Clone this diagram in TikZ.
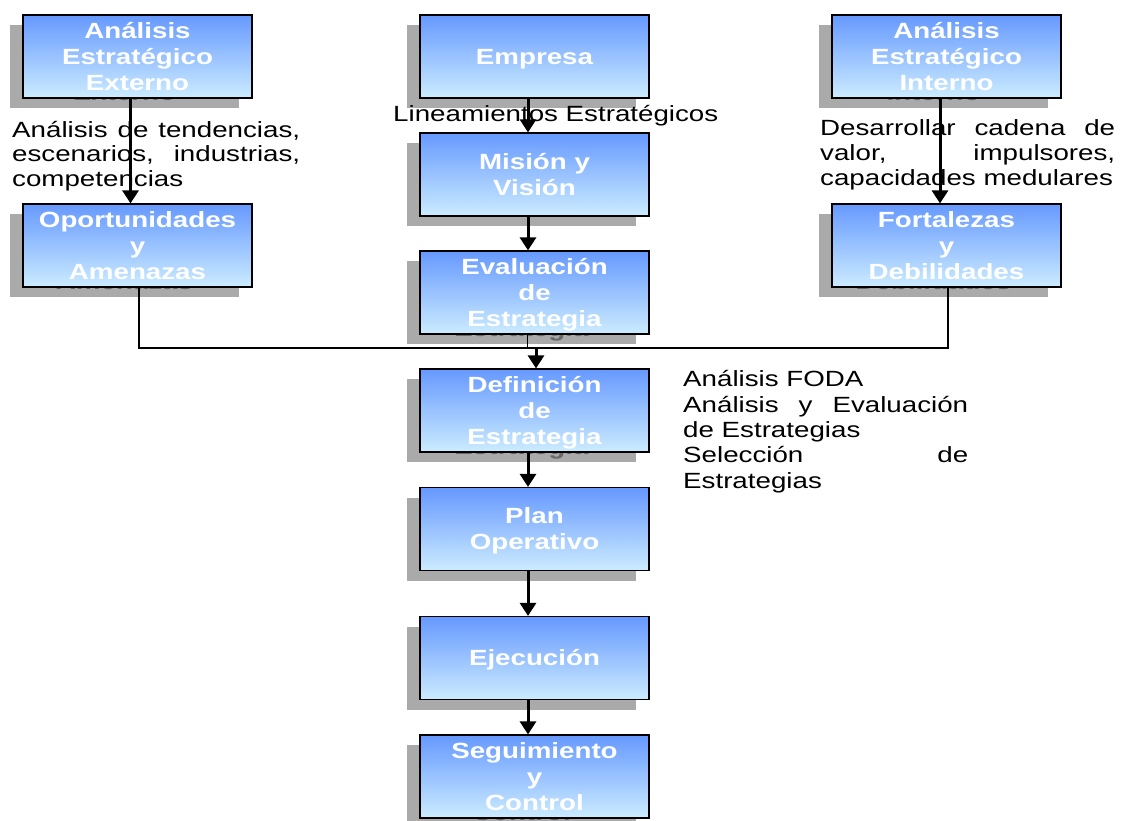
\documentclass[tikz,border=0pt]{standalone}
\usepackage{fontspec}
\setmainfont{Liberation Sans}[FakeStretch=1.26]
\usetikzlibrary{arrows.meta,calc}

\definecolor{boxtop}{RGB}{102,153,255}
\definecolor{boxbot}{RGB}{204,236,255}
\definecolor{shadowfill}{RGB}{170,170,170}
\definecolor{shadowtext}{RGB}{105,105,105}

% line strut for the text inside the process boxes (20.5pt above, 5.5pt below the baseline)
\newcommand\bxs{\rule[-5.5pt]{0pt}{26pt}}
% a process box with its offset drop shadow (the shadow repeats the text in grey)
\newcommand\flowbox[4]{%
  \node[shadowbox] (#1-sh) at ({#2-13},{#3+10}) {#4};
  \node[stepbox] (#1) at (#2,#3) {#4};}

\begin{document}
\begin{tikzpicture}[x=1pt,y=-1pt,
  boxbase/.style={minimum width=229pt,minimum height=83pt,inner sep=0pt,
    align=center,font=\fontsize{22}{26}\selectfont\bfseries},
  shadowbox/.style={boxbase,fill=shadowfill,text=shadowtext},
  stepbox/.style={boxbase,draw=black,line width=1.2pt,
    top color=boxtop,bottom color=boxbot,text=white},
  note/.style={inner sep=0pt,anchor=base west,font=\fontsize{22}{25}\selectfont},
  arrow/.style={line width=3pt,-{Triangle[width=16pt,length=13pt]}},
  joinline/.style={line width=2pt},
  feedline/.style={line width=1pt}]
\useasboundingbox (0,0) rectangle (1125,820);

% process boxes
\flowbox{ext}{137.5}{56.5}{\bxs Análisis\\\bxs Estratégico\\\bxs Externo}
\flowbox{emp}{534.5}{56.5}{\bxs Empresa}
\flowbox{int}{946.5}{56.5}{\bxs Análisis\\\bxs Estratégico\\\bxs Interno}
\flowbox{mis}{534.5}{174.5}{\bxs Misión y\\\bxs Visión}
\flowbox{opo}{137.5}{245.5}{\bxs Oportunidades\\\bxs y\\\bxs Amenazas}
\flowbox{fort}{946.5}{245.5}{\bxs Fortalezas\\\bxs y\\\bxs Debilidades}
\flowbox{eval}{534.5}{292.5}{\bxs Evaluación\\\bxs de\\\bxs Estrategia}
\flowbox{def}{534.5}{410.5}{\bxs Definición\\\bxs de\\\bxs Estrategia}
\flowbox{plan}{534.5}{529}{\bxs Plan\\\bxs Operativo}
\flowbox{eje}{534.5}{658}{\bxs Ejecución}
\flowbox{seg}{534.5}{776.5}{\bxs Seguimiento\\\bxs y\\\bxs Control}

% annotations
\node[note] (lin) at (393,121) {Lineamientos Estratégicos};
\node[note] (ext-note) at (12,137) {\parbox[t]{288pt}{\fontsize{22}{24.8}\selectfont\raggedright
  \makebox[\linewidth][s]{Análisis de tendencias,}\\
  \makebox[\linewidth][s]{escenarios, industrias,}\\
  competencias}};
\node[note] (int-note) at (820,135) {\parbox[t]{295pt}{\fontsize{22}{25}\selectfont\raggedright
  \makebox[\linewidth][s]{Desarrollar cadena de}\\
  \makebox[\linewidth][s]{valor, impulsores,}\\
  capacidades medulares}};
\node[note] (foda-note) at (683,386.7) {\parbox[t]{285pt}{\fontsize{22}{25.4}\selectfont\raggedright
  Análisis FODA\\
  \makebox[\linewidth][s]{Análisis y Evaluación}\\
  de Estrategias\\
  \makebox[\linewidth][s]{Selección de}\\
  Estrategias}};

% connectors
\coordinate (merge) at (536,348);
\draw[arrow] ([xshift=-7pt]ext.south) -- ([xshift=-7pt]opo.north);
\draw[arrow] ([xshift=-6.5pt]emp.south) -- ([xshift=-6.5pt]mis.north);
\draw[arrow] ([xshift=-6.5pt]int.south) -- ([xshift=-6.5pt]fort.north);
\draw[arrow] ([xshift=-6.5pt]mis.south) -- ([xshift=-6.5pt]eval.north);
\draw[joinline] ([xshift=1.5pt]opo.south) |- (merge) -| ([xshift=1.5pt]fort.south);
\draw[feedline] ([xshift=-7.5pt]eval.south) -- ([xshift=-7.5pt]eval.south |- merge);
\draw[arrow] (merge) -- ([xshift=1.5pt]def.north);
\draw[arrow] ([xshift=-6.5pt]def.south) -- ([xshift=-6.5pt]plan.north);
\draw[arrow] ([xshift=-6.5pt]plan.south) -- ([xshift=-6.5pt]eje.north);
\draw[arrow] ([xshift=-6.5pt]eje.south) -- ([xshift=-6.5pt]seg.north);
\end{tikzpicture}
\end{document}
